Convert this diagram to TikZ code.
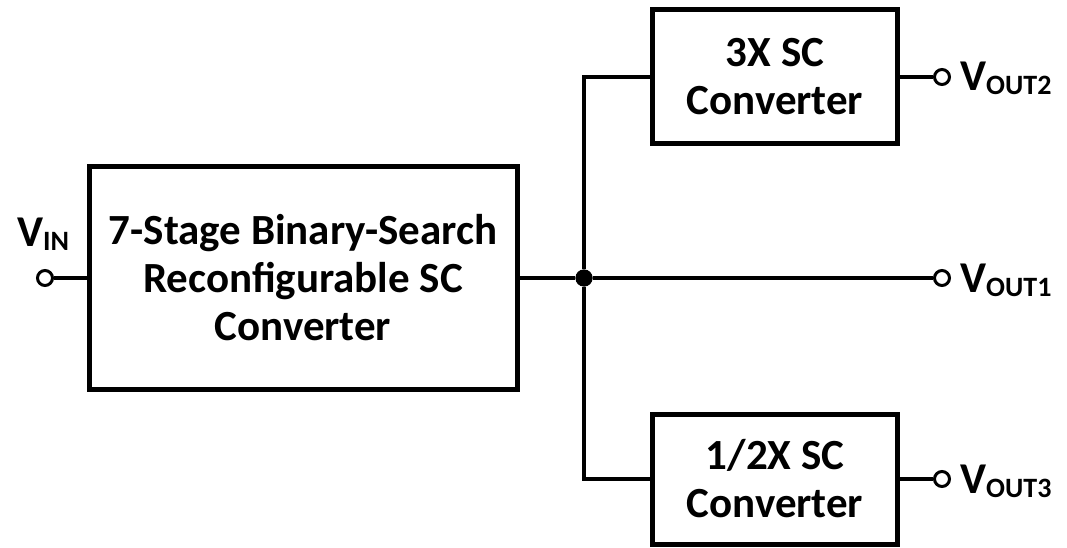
\documentclass[tikz,border=0pt]{standalone}
\usepackage{fontspec}
\setmainfont{Carlito}
\usetikzlibrary{positioning}

\newcommand{\lowsub}[1]{\raisebox{-4pt}{\fontsize{28}{28}\selectfont #1}}

\tikzset{
  block/.style={draw, line width=5pt, align=center, inner sep=0pt,
    font=\bfseries\fontsize{43}{48}\selectfont},
  wire/.style={line width=4pt},
  term/.style={circle, draw, line width=3pt, fill=white, inner sep=0pt, minimum size=15pt},
  junc/.style={circle, fill=black, inner sep=0pt, minimum size=17pt},
  pin/.style={anchor=base west, inner sep=0pt, font=\bfseries\fontsize{44}{44}\selectfont},
}

\begin{document}
\begin{tikzpicture}[x=1pt, y=-1pt]

\useasboundingbox (0,0) rectangle (1067,548);

% Blocks
\node[block, minimum width=428pt, minimum height=223pt] (main) at (303,278)
  {7-Stage Binary-Search\\Reconfigurable SC\\Converter};
\node[block, minimum width=245pt, minimum height=134pt] (tripler) at (775,77)
  {3X SC\\Converter};
\node[block, minimum width=245pt, minimum height=130pt] (halver) at (775,479)
  {1/2X SC\\Converter};

% Terminals
\node[term] (vin) at (45,278) {};
\node[junc] (jn) at (584,278) {};
\node[term] (vout1) at (942,278) {};
\node[term] (vout2) at (942,77) {};
\node[term] (vout3) at (942,479) {};

% Labels
\node[pin] (lin) at (17,246) {V\lowsub{IN}};
\node[pin] (l1) at (960,292) {V\lowsub{OUT1}};
\node[pin] (l2) at (960,91) {V\lowsub{OUT2}};
\node[pin] (l3) at (960,493) {V\lowsub{OUT3}};

% Wires
\draw[wire] (vin) -- (main);
\draw[wire] (main) -- (jn) -- (vout1);
\draw[wire] (jn) |- (tripler);
\draw[wire] (jn) |- (halver);
\draw[wire] (tripler) -- (vout2);
\draw[wire] (halver) -- (vout3);
\node[junc] at (jn) {};

\end{tikzpicture}
\end{document}
